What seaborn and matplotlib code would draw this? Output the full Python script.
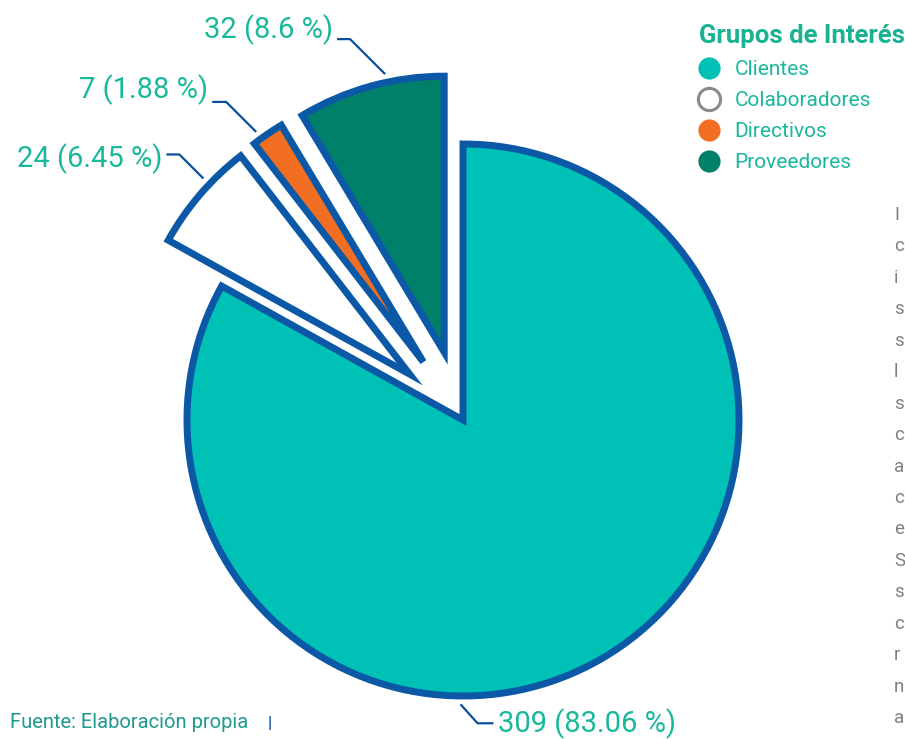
import matplotlib
matplotlib.use("Agg")
import math
import numpy as np
import matplotlib.pyplot as plt
import seaborn as sns
from matplotlib.lines import Line2D

# ---------------- data ----------------
categories = ["Clientes", "Colaboradores", "Directivos", "Proveedores"]
values = [309, 24, 7, 32]
percents = ["83.06", "6.45", "1.88", "8.6"]
legend_title = "Grupos de Interés"
source_text = "Fuente: Elaboración propia"
side_letters = ["I", "c", "i", "s", "s", "l", "s", "c", "a", "c", "e", "S",
                "s", "c", "r", "n", "a"]

# ---------------- style ----------------
sns.set_theme(style="white")
plt.rcParams['font.family'] = ['Roboto', 'DejaVu Sans']

fill_colors = ["#00c1b5", "#ffffff", "#f26e22", "#007f69"]
edge_color = "#0b58a6"
line_color = "#0b4f9c"
label_color = "#1ab89b"
legend_edge = ["#00c1b5", "#8a8a8a", "#f26e22", "#007f69"]

W, H = 905, 739
fig = plt.figure(figsize=(W / 100, H / 100), dpi=100)
ax = fig.add_axes([0, 0, 1, 1])

R = 276
center = (463, H - 420)
explode_frac = [0, 0.255, 0.255, 0.255]
LW = 5.0

wedges, _ = ax.pie(values, colors=fill_colors, startangle=90, counterclock=False,
                   radius=R, center=center, frame=True,
                   explode=[e * R for e in explode_frac],
                   wedgeprops=dict(edgecolor=edge_color, linewidth=LW))
# safety: if the library already scaled explode by radius, redo with fractions
d = math.hypot(wedges[3].center[0] - center[0], wedges[3].center[1] - center[1])
if d > 1.5 * 0.255 * R:
    for w in wedges:
        w.remove()
    wedges, _ = ax.pie(values, colors=fill_colors, startangle=90, counterclock=False,
                       radius=R, center=center, frame=True, explode=explode_frac,
                       wedgeprops=dict(edgecolor=edge_color, linewidth=LW))

ax.set_xlim(0, W)
ax.set_ylim(0, H)
ax.set_aspect('equal')
ax.axis('off')

# ---------------- leader labels ----------------
label_angles = [269.5, 136.5, 126.0, 102.0]
diag = [(17, -19), (-24, 24), (-30, 30), (-35, 35)]
horiz = [16, -13, -14, -13]
text_dy = [0, -4, 12, 9]
for i, w in enumerate(wedges):
    a = math.radians(label_angles[i])
    ax_, ay_ = w.center[0] + 1.03 * w.r * math.cos(a), w.center[1] + 1.03 * w.r * math.sin(a)
    cx, cy = ax_ + diag[i][0], ay_ + diag[i][1]
    sx, sy = cx + horiz[i], cy
    ax.plot([ax_, cx, sx], [ay_, cy, sy], color=line_color, lw=1.6,
            solid_capstyle='butt')
    txt = f"{values[i]} ({percents[i]} %)"
    if horiz[i] > 0:
        ax.text(sx + 4, sy + text_dy[i], txt, ha='left', va='center',
                fontsize=21, color=label_color)
    else:
        ax.text(sx - 4, sy + text_dy[i], txt, ha='right', va='center',
                fontsize=21, color=label_color)

# ---------------- legend ----------------
handles = [Line2D([], [], marker='o', ls='', markersize=16,
                  markerfacecolor=fill_colors[i], markeredgecolor=legend_edge[i],
                  markeredgewidth=2.2 if i == 1 else 0.0)
           for i in range(len(categories))]
leg = fig.legend(handles, categories, loc='upper left',
                 bbox_to_anchor=(699 / W, 1 - 24 / H), frameon=False,
                 fontsize=15, title=legend_title, alignment='left',
                 handlelength=1.0, handletextpad=0.7, labelspacing=0.58,
                 borderpad=0, borderaxespad=0)
leg.get_title().set_fontsize(18.5)
leg.get_title().set_fontweight('bold')
leg.get_title().set_color("#19b293")
for t in leg.get_texts():
    t.set_color(label_color)

# ---------------- footer & side text ----------------
fig.text(10 / W, 1 - 722 / H, source_text, ha='left', va='center',
         fontsize=14.5, color="#1e9a90")
fig.text(268 / W, 1 - 724 / H, "|", ha='left', va='center',
         fontsize=12, color="#0b4f9c", fontweight='bold')
ys = np.linspace(215, 718, len(side_letters))
for ch, yy in zip(side_letters, ys):
    fig.text(894 / W, 1 - yy / H, ch, ha='left', va='center',
             fontsize=13.5, color="#808080")

fig.savefig("out.png", dpi=100)
